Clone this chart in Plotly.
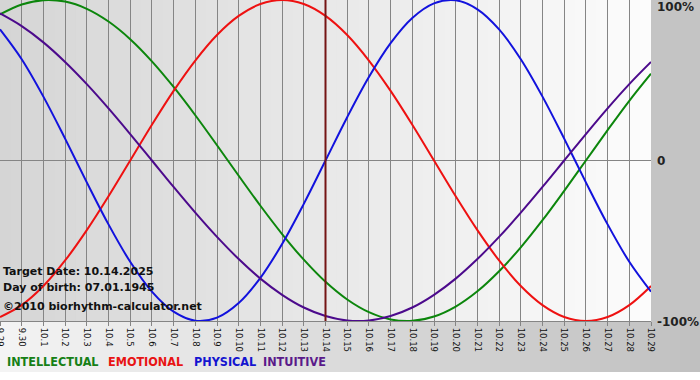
import plotly.graph_objects as go

# ---- data ----
day_labels = ["9.29", "9.30"] + [f"10.{d}" for d in range(1, 30)]
intellectual = [0.910, 0.972, 0.999, 0.990, 0.945, 0.866, 0.756, 0.618, 0.458, 0.282,
                0.095, -0.095, -0.282, -0.458, -0.618, -0.756, -0.866, -0.945, -0.990, -0.999,
                -0.972, -0.910, -0.815, -0.690, -0.541, -0.372, -0.189, 0.000, 0.189, 0.372, 0.541]
emotional = [-0.975, -0.901, -0.782, -0.623, -0.434, -0.223, 0.000, 0.223, 0.434, 0.623,
             0.782, 0.901, 0.975, 1.000, 0.975, 0.901, 0.782, 0.623, 0.434, 0.223,
             0.000, -0.223, -0.434, -0.623, -0.782, -0.901, -0.975, -1.000, -0.975, -0.901, -0.782]
physical = [0.817, 0.631, 0.398, 0.136, -0.136, -0.398, -0.631, -0.817, -0.942, -0.998,
            -0.979, -0.888, -0.731, -0.520, -0.270, 0.000, 0.270, 0.520, 0.731, 0.888,
            0.979, 0.998, 0.942, 0.817, 0.631, 0.398, 0.136, -0.136, -0.398, -0.631, -0.817]
intuitive = [0.916, 0.837, 0.736, 0.614, 0.476, 0.325, 0.165, 0.000, -0.165, -0.325,
             -0.476, -0.614, -0.736, -0.837, -0.916, -0.969, -0.997, -0.997, -0.969, -0.916,
             -0.837, -0.736, -0.614, -0.476, -0.325, -0.165, 0.000, 0.165, 0.325, 0.476, 0.614]
target_label = "10.14"
info_lines = ["Target Date: 10.14.2025", "Day of birth: 07.01.1945", "\u00a92010 biorhythm-calculator.net"]
y_labels = ["100%", "0", "-100%"]
y_vals = [1, 0, -1]
series = [("INTELLECTUAL", intellectual, "#0c860c"),
          ("EMOTIONAL", emotional, "#ee1111"),
          ("PHYSICAL", physical, "#1212dd"),
          ("INTUITIVE", intuitive, "#4c0a8c")]
legend_colors = {"INTELLECTUAL": "#168016", "EMOTIONAL": "#e81414", "PHYSICAL": "#1414d0", "INTUITIVE": "#5a1a8a"}

W, H = 700, 380
ML, MR, MT, MB = 0, 49, 0, 59
PW, PH = W - ML - MR, H - MT - MB

def px_x(px):
    return (px - ML) / PW

def px_y(py):
    return (MT + PH - py) / PH

xs = list(range(len(day_labels)))
fig = go.Figure()
for name, vals, col in series:
    fig.add_trace(go.Scatter(x=xs, y=vals, mode="lines", name=name,
                             line=dict(color=col, width=2, shape="spline", smoothing=1.0),
                             hoverinfo="skip"))

shapes = []
def gray(v):
    v = int(round(v))
    return f"rgb({v},{v},{v})"

# plot area gradient
N = 60
for i in range(N):
    x0 = i / N
    x1 = (i + 1) / N + 0.002
    v = 213 + (252 - 213) * (i + 0.5) / N
    shapes.append(dict(type="rect", xref="paper", yref="paper", x0=x0, x1=x1, y0=0, y1=1,
                       fillcolor=gray(v), line=dict(width=0), layer="below"))
# bottom band gradient
N2 = 70
for i in range(N2):
    p0 = i * W / N2
    p1 = (i + 1) * W / N2 + 1
    v = 244 + (192 - 244) * (i + 0.5) / N2
    shapes.append(dict(type="rect", xref="paper", yref="paper", x0=px_x(p0), x1=px_x(p1),
                       y0=px_y(372), y1=px_y(PH), fillcolor=gray(v), line=dict(width=0), layer="below"))
# right strip
shapes.append(dict(type="rect", xref="paper", yref="paper", x0=1, x1=px_x(W + 2), y0=0, y1=1.01,
                   fillcolor="rgb(196,196,196)", line=dict(width=0), layer="below"))
# target date line
shapes.append(dict(type="line", xref="x", yref="paper", x0=day_labels.index(target_label),
                   x1=day_labels.index(target_label), y0=0, y1=1,
                   line=dict(color="#741414", width=2), layer="above"))

annotations = []
info_y = [271, 287, 306]
for t, py in zip(info_lines, info_y):
    annotations.append(dict(text=f"<b>{t}</b>", xref="paper", yref="paper", x=px_x(1), y=px_y(py),
                            xanchor="left", yanchor="middle", showarrow=False,
                            font=dict(family="DejaVu Sans", size=11, color="#111111")))
legend_x = [5, 106, 192, 261]
for (name, _, _), lx in zip(series, legend_x):
    annotations.append(dict(text=f"<b>{name}</b>", xref="paper", yref="paper", x=px_x(lx), y=px_y(362),
                            xanchor="left", yanchor="middle", showarrow=False,
                            font=dict(family="DejaVu Sans Condensed, DejaVu Sans", size=12.5,
                                      color=legend_colors[name])))
ylab_py = [7, 161, 322]
for t, py in zip(y_labels, ylab_py):
    annotations.append(dict(text=f"<b>{t}</b>", xref="paper", yref="paper", x=px_x(655), y=px_y(py),
                            xanchor="left", yanchor="middle", showarrow=False,
                            font=dict(family="DejaVu Sans", size=12, color="#222222")))

fig.update_layout(
    template="none",
    width=W, height=H,
    margin=dict(l=ML, r=MR, t=MT, b=MB, pad=0, autoexpand=False),
    paper_bgcolor="white", plot_bgcolor="rgba(0,0,0,0)",
    showlegend=False,
    shapes=shapes, annotations=annotations,
    xaxis=dict(range=[0, len(day_labels) - 1], tickmode="array", tickvals=xs, ticktext=day_labels,
               automargin=False,
               tickangle=90, tickfont=dict(family="DejaVu Sans", size=8.5, color="#111111"),
               ticklabeloverflow="allow",
               showgrid=True, gridcolor="#858585", gridwidth=1, zeroline=False,
               ticks="outside", ticklen=4, tickcolor="#858585",
               showline=True, linecolor="#858585", linewidth=1, fixedrange=True),
    yaxis=dict(range=[-1, 1], tickmode="array", tickvals=y_vals, ticktext=["", "", ""],
               automargin=False,
               showgrid=True, gridcolor="#858585", gridwidth=1, zeroline=False,
               showticklabels=False, showline=False, ticks="", fixedrange=True),
)
fig.write_html("out.html", config={"displayModeBar": False},
               post_script="document.body.style.margin='0';document.body.style.overflow='hidden';")
